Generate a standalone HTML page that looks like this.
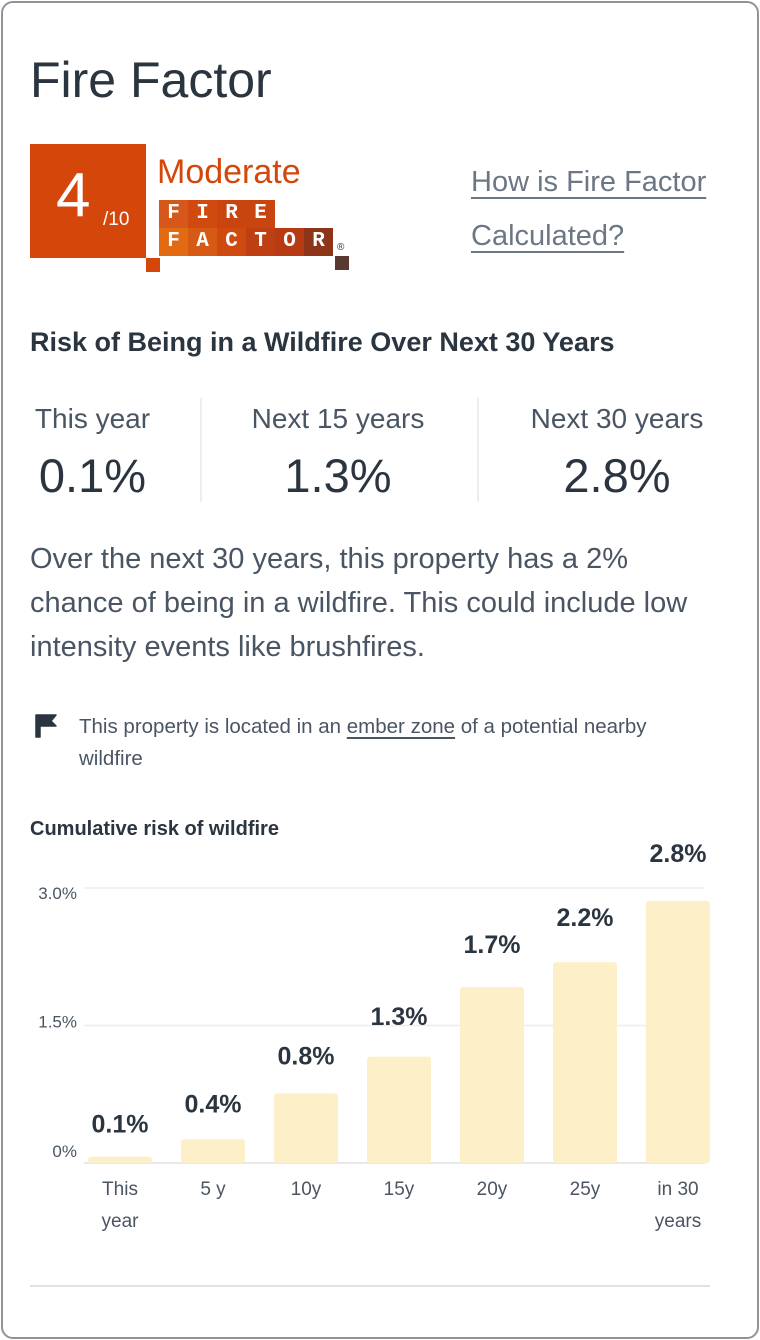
<!DOCTYPE html>
<html><head><meta charset="utf-8"><style>
*{margin:0;padding:0;box-sizing:border-box}
body{width:760px;height:1340px;background:#fff;font-family:"Liberation Sans",sans-serif;color:#2b3540;position:relative;overflow:hidden}
.a{position:absolute;white-space:nowrap}
.card{position:absolute;left:1px;top:1px;width:758px;height:1338px;border:2px solid #8e9499;border-radius:12px}
.tile{position:absolute;width:29px;height:28px;color:#fff;font-family:"Liberation Mono",monospace;font-weight:bold;font-size:21px;text-align:center;line-height:28px}
.lbl{font-size:28px;color:#4a5563;text-align:center}
.val{font-size:47px;color:#2b3540;text-align:center}
</style></head><body>
<div class="card"></div>
<div class="a" style="left:30px;top:51px;font-size:50px;color:#2b3540">Fire Factor</div>

<div>
<div class="a" style="left:30px;top:144px;width:116px;height:114px;background:#d5460a"></div>
<div class="a" style="left:56px;top:160px;font-size:62px;color:#fff">4</div>
<div class="a" style="left:103px;top:209px;font-size:19px;color:#fff">/10</div>
<div class="a" style="left:146px;top:258px;width:14px;height:14px;background:#d5460a"></div>
<div class="a" style="left:157px;top:153px;font-size:34px;color:#d5460a">Moderate</div>
<div class="tile" style="left:159px;top:200px;background:#d5581a">F</div>
<div class="tile" style="left:188px;top:200px;background:#d04a10">I</div>
<div class="tile" style="left:217px;top:200px;background:#c9440e">R</div>
<div class="tile" style="left:246px;top:200px;background:#c84510">E</div>
<div class="tile" style="left:159px;top:228px;background:#e26a12">F</div>
<div class="tile" style="left:188px;top:228px;background:#d75a14">A</div>
<div class="tile" style="left:217px;top:228px;background:#cf4a10">C</div>
<div class="tile" style="left:246px;top:228px;background:#be4012">T</div>
<div class="tile" style="left:275px;top:228px;background:#b83a12">O</div>
<div class="tile" style="left:304px;top:228px;background:#8e3418">R</div>
<div class="a" style="left:335px;top:256px;width:14px;height:14px;background:#5a3a30"></div>
<div class="a" style="left:337px;top:242px;font-size:10px;color:#333">®</div>
</div>

<div class="a" style="left:471px;top:155px;font-size:29px;color:#6b7785;line-height:54px;text-decoration:underline;text-underline-offset:6px;white-space:normal;width:280px">How is Fire Factor<br>Calculated?</div>

<div class="a" style="left:30px;top:327px;font-size:27px;font-weight:bold;color:#2b3540">Risk of Being in a Wildfire Over Next 30 Years</div>

<div class="a lbl" style="left:20px;top:403px;width:145px">This year</div>
<div class="a val" style="left:20px;top:448px;width:145px">0.1%</div>
<div class="a" style="left:200px;top:398px;width:2px;height:104px;background:#eceef0"></div>
<div class="a lbl" style="left:220px;top:403px;width:236px">Next 15 years</div>
<div class="a val" style="left:220px;top:448px;width:236px">1.3%</div>
<div class="a" style="left:477px;top:398px;width:2px;height:104px;background:#eceef0"></div>
<div class="a lbl" style="left:510px;top:403px;width:214px">Next 30 years</div>
<div class="a val" style="left:510px;top:448px;width:214px">2.8%</div>

<div class="a" style="left:30px;top:537px;font-size:29px;color:#4a5563;line-height:44px;white-space:normal;width:720px">Over the next 30 years, this property has a 2%<br>chance of being in a wildfire. This could include low<br>intensity events like brushfires.</div>

<svg class="a" style="left:34px;top:713px" width="26" height="26" viewBox="0 0 26 26"><path d="M2 2 H22 L17 8 L22 13 H6 V24 H2 Z" fill="#2b3540" stroke="#2b3540" stroke-linejoin="round" stroke-width="1.5"/></svg>
<div class="a" style="left:79px;top:711px;font-size:20.5px;color:#4a5563;line-height:32px">This property is located in an <span style="text-decoration:underline;text-underline-offset:4px">ember zone</span> of a potential nearby<br>wildfire</div>

<div class="a" style="left:30px;top:818px;font-size:20px;font-weight:bold;color:#2b3540">Cumulative risk of wildfire</div>

<svg id="chart" class="a" style="left:0;top:830px" width="760" height="420"></svg>

<div class="a" style="left:30px;top:1285px;width:680px;height:2px;background:#dfe2e5"></div>

<script>
const categories=["This|year","5 y","10y","15y","20y","25y","in 30|years"];
const barValues=[0.07,0.26,0.76,1.16,1.92,2.19,2.86];
const valueLabels=["0.1%","0.4%","0.8%","1.3%","1.7%","2.2%","2.8%"];
const yTicks=[0,1.5,3.0];
const yTickLabels=["0%","1.5%","3.0%"];
const NS="http://www.w3.org/2000/svg";
const svg=document.getElementById('chart');
const oy=830, y0=1163-oy, y3=888-oy;
const yScale=v=>y0-(v/3)*(y0-y3);
const x0=74, step=93, bw=64;
function mk(t,a){const e=document.createElementNS(NS,t);for(const k in a)e.setAttribute(k,a[k]);svg.appendChild(e);return e;}
yTicks.forEach((t,i)=>{
  const g=mk('line',{x1:84,x2:705,y1:yScale(t),y2:yScale(t),stroke:i==0?'#e6e8ea':'#ebedef','stroke-width':i==0?2:1.5});
  
  
  const tx=mk('text',{x:77,y:yScale(t)+(i==0?-6:i==1?2:11),'text-anchor':'end','font-size':17,fill:'#4a5563','font-family':'Liberation Sans, sans-serif'});
  tx.textContent=yTickLabels[i];
  
  
});
barValues.forEach((v,i)=>{
  const cx=x0+46+step*i;
  const r=mk('rect',{x:cx-bw/2,y:yScale(v),width:bw,height:y0-yScale(v),rx:3,fill:'#fdefc8'});
  
  
  const t=mk('text',{x:cx,y:yScale(v)-24-i*2.5,'text-anchor':'middle','font-size':25,'font-weight':'bold',fill:'#2b3540','font-family':'Liberation Sans, sans-serif'});
  t.textContent=valueLabels[i];
  
  
  categories[i].split('|').forEach((s,j)=>{
    const c=mk('text',{x:cx,y:y0+32+j*32,'text-anchor':'middle','font-size':19,fill:'#4a5563','font-family':'Liberation Sans, sans-serif'});
    c.textContent=s;
    
    
  });
});
</script>
</body></html>
